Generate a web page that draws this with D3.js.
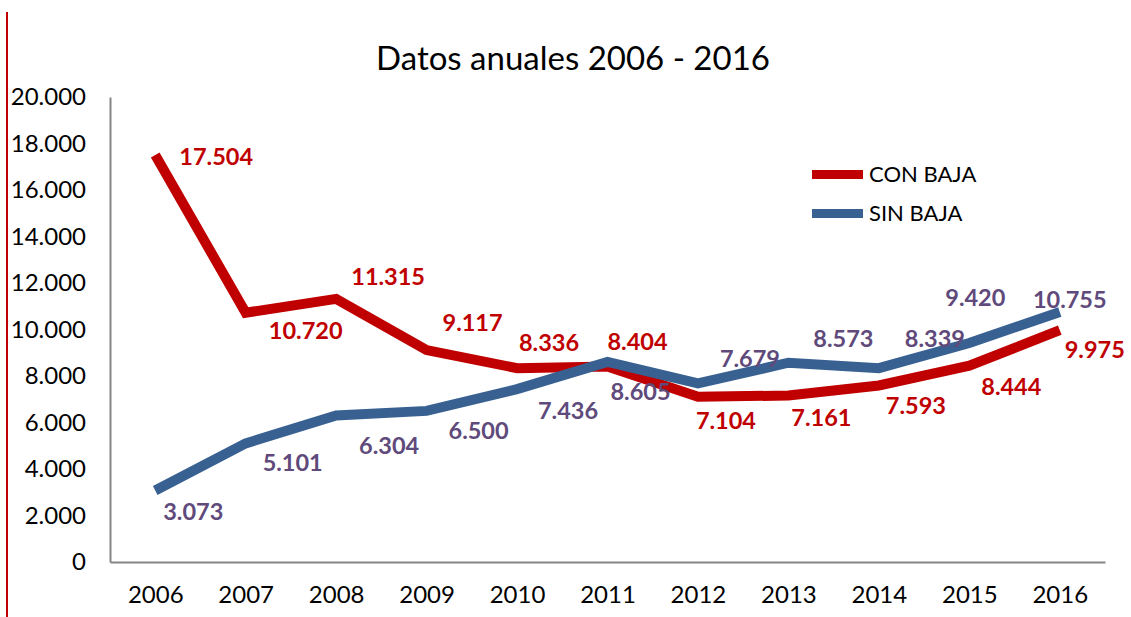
<!DOCTYPE html>
<html>
<head>
<meta charset="utf-8">
<script src="https://cdn.jsdelivr.net/npm/d3@7"></script>
<style>
  body { margin: 0; background: #fff; }
  svg { font-family: Lato, "Open Sans", sans-serif; }
</style>
</head>
<body>
<svg id="chart" width="1131" height="617"></svg>
<script>
const years = ["2006", "2007", "2008", "2009", "2010", "2011", "2012", "2013", "2014", "2015", "2016"];
const conBaja = [17504, 10720, 11315, 9117, 8336, 8404, 7104, 7161, 7593, 8444, 9975];
const sinBaja = [3073, 5101, 6304, 6500, 7436, 8605, 7679, 8573, 8339, 9420, 10755];
const yTicks = [0, 2000, 4000, 6000, 8000, 10000, 12000, 14000, 16000, 18000, 20000];
const seriesNames = ["CON BAJA", "SIN BAJA"];

// label nudges (px) relative to each point, the way Excel placed them
const conOffsets = [[61, 2], [60, 18], [52, -22], [46, -27], [32, -25], [30, -25], [28, 24], [33, 22], [37, 20], [42, 21], [35, 20]];
const sinOffsets = [[38, 21], [47, 19], [53, 30], [52, 20], [51, 22], [33, 30], [52, -25], [55, -24], [56, -29], [6, -45], [10, -12]];

const svg = d3.select("#chart");
const plotLeft = 110, plotRight = 1105, plotTop = 97, plotBottom = 562;

const fmt = v => d3.format(",")(v).replace(/,/g, ".");

const x = d3.scalePoint().domain(years).range([plotLeft, plotRight]).padding(0.5);
const y = d3.scaleLinear().domain([0, 20000]).range([plotBottom, plotTop]);

// red rule at the left edge
svg.append("line")
   .attr("x1", 7).attr("x2", 7).attr("y1", 12).attr("y2", 617)
   .attr("stroke", "#c00000").attr("stroke-width", 2);

svg.append("text")
   .attr("x", 573).attr("y", 70)
   .attr("text-anchor", "middle")
   .attr("font-size", 33)
   .attr("fill", "#000")
   .text("Datos anuales 2006 - 2016");

const yAxis = d3.axisLeft(y).tickValues(yTicks).tickSize(0).tickPadding(24).tickFormat(fmt);
const gy = svg.append("g").attr("transform", `translate(${plotLeft},0)`).call(yAxis);
gy.select(".domain").attr("stroke", "#868686").attr("stroke-width", 2);
gy.selectAll("text").attr("font-size", 24).attr("fill", "#000").attr("font-family", "Lato");

const xAxis = d3.axisBottom(x).tickSize(0).tickPadding(24);
const gx = svg.append("g").attr("transform", `translate(0,${plotBottom})`).call(xAxis);
gx.select(".domain").attr("stroke", "#868686").attr("stroke-width", 2);
gx.selectAll("text").attr("font-size", 24).attr("fill", "#000").attr("font-family", "Lato");

const line = d3.line().x((d, i) => x(years[i])).y(d => y(d));

const series = [
  { name: seriesNames[0], values: conBaja, color: "#c00000", labelColor: "#c00000", offsets: conOffsets },
  { name: seriesNames[1], values: sinBaja, color: "#386192", labelColor: "#604a7b", offsets: sinOffsets }
];

series.forEach(s => {
  svg.append("path")
     .datum(s.values)
     .attr("d", line)
     .attr("fill", "none")
     .attr("stroke", s.color)
     .attr("stroke-width", 10)
     .attr("stroke-linejoin", "miter");
});

series.forEach(s => {
  svg.append("g").selectAll("text")
     .data(s.values)
     .join("text")
     .attr("x", (d, i) => x(years[i]) + s.offsets[i][0])
     .attr("y", (d, i) => y(d) + s.offsets[i][1])
     .attr("dy", "0.35em")
     .attr("text-anchor", "middle")
     .attr("font-size", 23.5)
     .attr("font-weight", "bold")
     .attr("fill", s.labelColor)
     .text(d => fmt(d));
});

const legend = svg.append("g").attr("transform", "translate(812,174.5)");
series.forEach((s, i) => {
  legend.append("line")
        .attr("x1", 0).attr("x2", 51)
        .attr("y1", i * 39).attr("y2", i * 39)
        .attr("stroke", s.color).attr("stroke-width", 9);
  legend.append("text")
        .attr("x", 57).attr("y", i * 39)
        .attr("dy", "0.35em")
        .attr("font-size", 22)
        .attr("fill", "#000")
        .text(s.name);
});
</script>
</body>
</html>
